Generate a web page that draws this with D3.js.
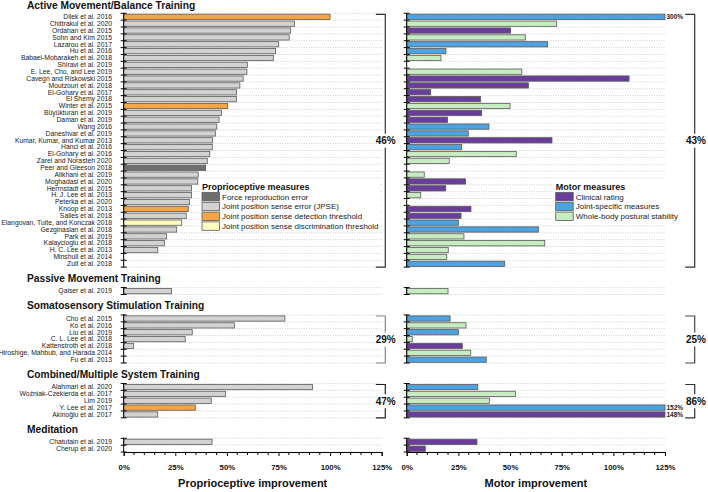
<!DOCTYPE html>
<html><head><meta charset="utf-8">
<script src="https://cdn.jsdelivr.net/npm/d3@7"></script>
<style>body{margin:0;background:#fff}svg{font-family:"Liberation Sans",Arial,sans-serif}</style>
</head><body><svg id="c" width="708" height="492"></svg>
<script>
// ---------------- DATA ----------------
const groupNames = ["Active Movement/Balance Training","Passive Movement Training","Somatosensory Stimulation Training","Combined/Multiple System Training","Meditation"];
const studies = [
 "Dilek et al. 2016","Chittrakul et al. 2020","Ordahan et al. 2015","Sohn and Kim 2015","Lazarou et al. 2017","Hu et al. 2016","Babaei-Mobarakeh et al. 2018","Shiravi et al. 2019","E. Lee, Cho, and Lee 2019","Cavegn and Riskowski 2015","Moutzouri et al. 2018","El-Gohary et al. 2017","El Shemy 2018","Winter et al. 2015","Büyükturan et al. 2019","Daman et al. 2019","Wang 2016","Daneshvar et al. 2019","Kumar, Kumar, and Kumar 2013","Hanci et al. 2016","El-Gohary et al. 2016","Zarei and Norasteh 2020","Peer and Gleeson 2018","Alikhani et al. 2019","Moghadasi et al. 2020","Herrnstadt et al. 2015","H. J. Lee et al. 2013","Peterka et al. 2020","Knoop et al. 2013","Salles et al. 2018","Elangovan, Tuite, and Konczak 2018","Gezginaslan et al. 2018","Park et al. 2019","Kalaycioglu et al. 2018","H. C. Lee et al. 2013","Minshull et al. 2014","Zult et al. 2018",
 "Qaiser et al. 2019",
 "Cho et al. 2015","Ko et al. 2016","Liu et al. 2019","C. L. Lee et al. 2018","Kattenstroth et al. 2018","Hiroshige, Mahbub, and Harada 2014","Fu et al. 2013",
 "Alahmari et al. 2020","Woźniak-Czekierda et al. 2017","Lim 2019","Y. Lee et al. 2017","Akinoğlu et al. 2017",
 "Chatutain et al. 2019","Cherup et al. 2020"];
const studyGroup = [0,0,0,0,0,0,0,0,0,0,0,0,0,0,0,0,0,0,0,0,0,0,0,0,0,0,0,0,0,0,0,0,0,0,0,0,0, 1, 2,2,2,2,2,2,2, 3,3,3,3,3, 4,4];
// Proprioceptive improvement (%), null = not reported
const proprioValues = [100,82.7,80.9,80.2,75.1,73.6,72.5,59.9,59.7,57.9,56.3,54.7,54.6,50.4,47.3,46.2,45.1,44.4,43.1,42.9,41.7,40.5,39.7,36.1,35.9,32.9,32.8,31.8,31.3,30.3,28.1,25.7,20.8,19.7,16.5,null,null,
 23.1,
 78.1,53.6,33.2,29.8,4.8,null,null,
 91.5,49.4,42.4,34.7,16.5,
 42.8,null];
// F force reproduction, J JPSE, D detection threshold, S discrimination threshold
const proprioTypes = ["D","J","J","J","J","J","J","J","J","J","J","J","J","D","J","J","J","J","J","J","J","J","F","J","J","J","J","J","D","J","S","J","J","J","J","J","J",
 "J", "J","J","J","J","J","J","J", "J","J","J","D","J", "J","J"];
// Motor improvement (%)
const motorValues = [300,72.6,50.3,57.4,68.2,19,16.6,null,55.7,107.6,58.9,11.6,35.8,50,36.3,19.8,39.8,29.8,70.3,26.6,53,20.6,null,8.5,28.5,18.9,6.8,null,31.1,26.3,25,63.7,27.7,66.8,20.1,19.4,47.4,
 20,
 21,28.7,25,2.7,26.9,31,38.5,
 34.4,52.7,40,152,148,
 34,9];
// C clinical rating, J joint-specific, W whole-body postural stability
const motorTypes = ["J","W","C","W","J","J","W","W","W","C","C","C","C","W","C","C","J","J","C","J","W","W","W","W","C","C","W","W","C","C","J","J","W","W","W","W","J",
 "W", "J","W","J","W","C","W","J", "J","W","W","J","C", "C","C"];
const proprioLegend = [["F","Force reproduction error"],["J","Joint position sense error (JPSE)"],["D","Joint position sense detection threshold"],["S","Joint position sense discrimination threshold"]];
const motorLegend = [["C","Clinical rating"],["J","Joint-specific measures"],["W","Whole-body postural stability"]];
const summaryGroups = [0,2,3];
const proprioSummary = ["46%","29%","47%"];
const motorSummary = ["43%","25%","86%"];
const xTicks = [0,25,50,75,100,125];

// ---------------- STYLE ----------------
const proprioColor = {F:"#6f6f6f",J:"#d2d2d2",D:"#f6a545",S:"#fffbc2"};
const motorColor = {C:"#6a3d9c",J:"#4ca3e0",W:"#c7ecc1"};

const svg = d3.select("#c");
const xMax = 125;
const xL = d3.scaleLinear().domain([0,xMax]).range([123.7,381.7]);
const xR = d3.scaleLinear().domain([0,xMax]).range([406.7,665]);
const step = 6.86, gap = 20.5, top0 = 13.3;

// group layout through band scales
const groups = groupNames.map((name,gi)=>({name,gi,items:studies.map((s,i)=>i).filter(i=>studyGroup[i]===gi)}));
let cur = top0;
groups.forEach(g=>{
  g.top = cur; g.bottom = cur + g.items.length*step;
  g.y = d3.scaleBand().domain(g.items).range([g.top,g.bottom]).padding(0);
  cur = g.bottom + gap;
});
const axisY = groups[groups.length-1].bottom;

// headers
svg.selectAll("text.hdr").data(groups).join("text").attr("class","hdr")
  .attr("x",27).attr("y",g=>Math.max(g.top-5.6,9.4))
  .attr("font-size",10.2).attr("font-weight","bold").attr("fill","#111").text(g=>g.name);

// row labels
groups.forEach(g=>{
  svg.append("g").selectAll("text").data(g.items).join("text")
    .attr("x",112).attr("y",i=>g.y(i)+g.y.bandwidth()/2).attr("dy","0.35em")
    .attr("text-anchor","end").attr("font-size",6.8).attr("fill","#222").text(i=>studies[i]);
});

function panel(x, values, types, colors){
  const gp = svg.append("g");
  groups.forEach(g=>{
    const bounds = g.items.map(i=>g.y(i)).concat([g.bottom]);
    // dotted grid
    gp.append("g").selectAll("line").data(bounds).join("line")
      .attr("x1",x(0)).attr("x2",x(xMax)).attr("y1",d=>d).attr("y2",d=>d)
      .attr("stroke","#c4c4c4").attr("stroke-width",0.7).attr("stroke-dasharray","1.2,1.2");
    // bars
    const items = g.items.filter(i=>values[i]!=null);
    gp.append("g").selectAll("rect").data(items).join("rect")
      .attr("x",x(0)).attr("y",i=>g.y(i)+0.9)
      .attr("width",i=>x(Math.min(values[i],xMax))-x(0))
      .attr("height",g.y.bandwidth()-1.6)
      .attr("fill",i=>colors[types[i]]).attr("stroke","#5a5a5a").attr("stroke-width",0.8);
    // overflow labels
    gp.append("g").selectAll("text").data(items.filter(i=>values[i]>xMax)).join("text")
      .attr("x",x(xMax)+1.5).attr("y",i=>g.y(i)+g.y.bandwidth()/2).attr("dy","0.35em")
      .attr("font-size",6.5).attr("font-weight","bold").attr("fill","#222").text(i=>values[i]+"%");
    // y axis with cross ticks
    gp.append("line").attr("x1",x(0)).attr("x2",x(0)).attr("y1",g.top-0.5).attr("y2",g.bottom)
      .attr("stroke","#000").attr("stroke-width",1);
    gp.append("g").selectAll("line").data(bounds).join("line")
      .attr("x1",x(0)-3).attr("x2",x(0)+3).attr("y1",d=>d).attr("y2",d=>d)
      .attr("stroke","#000").attr("stroke-width",1);
  });
  // x axis
  const ax = gp.append("g").attr("transform",`translate(0,${axisY})`)
    .call(d3.axisBottom(x).tickValues(xTicks).tickFormat(d=>d+"%").tickSizeOuter(0).tickSize(4));
  ax.select(".domain").attr("stroke","#000");
  ax.selectAll(".tick line").attr("stroke","#000");
  ax.selectAll("text").attr("font-size",7.8).attr("font-weight","bold").attr("fill","#111")
    .attr("font-family","Liberation Sans, Arial, sans-serif").attr("dy","1.35em");
  gp.append("g").selectAll("line").data(d3.range(0,xMax+0.1,5).filter(v=>v%25!==0)).join("line")
    .attr("x1",d=>x(d)).attr("x2",d=>x(d)).attr("y1",axisY).attr("y2",axisY+3)
    .attr("stroke","#000").attr("stroke-width",1);
  return gp;
}
panel(xL, proprioValues, proprioTypes, proprioColor);
panel(xR, motorValues, motorTypes, motorColor);

// axis titles
svg.append("text").attr("x",(xL(0)+xL(xMax))/2).attr("y",487).attr("text-anchor","middle")
  .attr("font-size",11).attr("font-weight","bold").attr("fill","#111").text("Proprioceptive improvement");
svg.append("text").attr("x",(xR(0)+xR(xMax))/2).attr("y",487).attr("text-anchor","middle")
  .attr("font-size",11).attr("font-weight","bold").attr("fill","#111").text("Motor improvement");

// legends
function legend(x0, y0, title, entries, colors, w){
  const lg = svg.append("g");
  lg.append("rect").attr("x",x0-2).attr("y",y0-8).attr("width",w).attr("height",14+entries.length*9.8)
    .attr("fill","#fff");
  lg.append("text").attr("x",x0).attr("y",y0+3).attr("font-size",9).attr("font-weight","bold").attr("fill","#111").text(title);
  const it = lg.selectAll("g").data(entries).join("g")
    .attr("transform",(d,i)=>`translate(${x0},${y0+6+i*9.8})`);
  it.append("rect").attr("width",17.5).attr("height",8.4).attr("fill",d=>colors[d[0]])
    .attr("stroke","#5a5a5a").attr("stroke-width",0.8);
  it.append("text").attr("x",20).attr("y",4.3).attr("dy","0.35em").attr("font-size",8).attr("fill","#222").text(d=>d[1]);
}
legend(202, 186.5, "Proprioceptive measures", proprioLegend, proprioColor, 180);
legend(555.7, 186.5, "Motor measures", motorLegend, motorColor, 128);

// summary brackets
function bracket(xLine, xLabel, labels, colorsB){
  summaryGroups.forEach((gi,k)=>{
    const g = groups[gi];
    const t = g.top+1, b = g.bottom, m = (t+b)/2;
    const col = colorsB[k];
    const bg = svg.append("g").attr("fill","none").attr("stroke",col).attr("stroke-width",1.2);
    bg.append("path").attr("d",`M${xLine-9.5},${t}H${xLine}V${m-7}M${xLine},${m+7}V${b}H${xLine-9.5}`);
    svg.append("text").attr("x",xLabel).attr("y",m).attr("dy","0.36em").attr("text-anchor","middle")
      .attr("font-size",10).attr("font-weight","bold").attr("fill","#111").text(labels[k]);
  });
}
bracket(385.3, 385.7, proprioSummary, ["#333","#888","#222"]);
bracket(694.7, 696, motorSummary, ["#333","#444","#333"]);
</script></body></html>
